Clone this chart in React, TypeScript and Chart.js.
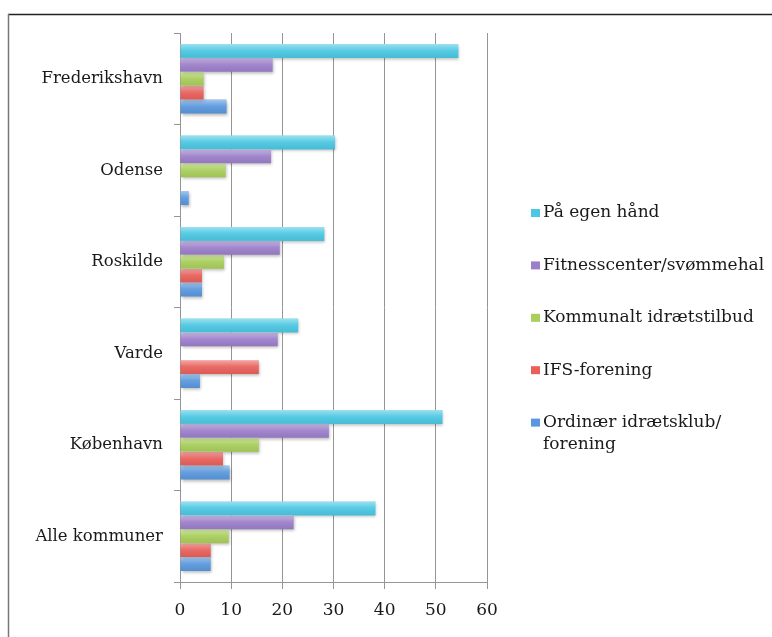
import React, { useEffect, useRef } from "react";
import { Chart, registerables } from "chart.js";
Chart.register(...registerables);

const categories = ["Frederikshavn", "Odense", "Roskilde", "Varde", "København", "Alle kommuner"];
const seriesLegendLines = [
  ["På egen hånd"],
  ["Fitnesscenter/svømmehal"],
  ["Kommunalt idrætstilbud"],
  ["IFS-forening"],
  ["Ordinær idrætsklub/", "forening"],
];
const paaEgenHaand = [54.4, 30.3, 28.2, 23.1, 51.3, 38.2];
const fitnesscenter = [18.1, 17.8, 19.5, 19.1, 29.1, 22.2];
const kommunalt = [4.6, 8.9, 8.6, 0, 15.4, 9.5];
const ifsForening = [4.6, 0, 4.3, 15.4, 8.4, 6.0];
const ordinaer = [9.1, 1.7, 4.3, 3.9, 9.7, 6.0];
const xMin = 0;
const xMax = 60;
const xStep = 10;
const seriesColors = ["#4cc8e3", "#9c7fcb", "#a9cf5c", "#e9605b", "#5a98de"];

const FONT = "'DejaVu Serif', serif";

const framePlugin = {
  id: "frame",
  beforeDraw(chart: any) {
    const ctx = chart.ctx;
    ctx.save();
    ctx.fillStyle = "#ffffff";
    ctx.fillRect(0, 0, chart.width, chart.height);
    ctx.strokeStyle = "#222222";
    ctx.lineWidth = 1.5;
    ctx.beginPath();
    ctx.moveTo(8, 14.5);
    ctx.lineTo(chart.width, 14.5);
    ctx.stroke();
    ctx.strokeStyle = "#777777";
    ctx.lineWidth = 1.5;
    ctx.beginPath();
    ctx.moveTo(8.5, 14);
    ctx.lineTo(8.5, chart.height);
    ctx.stroke();
    ctx.restore();
  },
};

const barStylePlugin = {
  id: "barStyle",
  beforeDatasetsDraw(chart: any) {
    const ctx = chart.ctx;
    ctx.save();
    ctx.shadowColor = "rgba(0,0,0,0.28)";
    ctx.shadowBlur = 3;
    ctx.shadowOffsetX = 1;
    ctx.shadowOffsetY = 2;
  },
  afterDatasetsDraw(chart: any) {
    const ctx = chart.ctx;
    ctx.restore();
    ctx.save();
    chart.data.datasets.forEach((_ds: any, di: number) => {
      const meta = chart.getDatasetMeta(di);
      meta.data.forEach((bar: any) => {
        const p = bar.getProps(["x", "y", "base", "height"], true);
        const left = Math.min(p.x, p.base);
        const w = Math.abs(p.x - p.base);
        if (w < 0.5) return;
        const top = p.y - p.height / 2;
        const g = ctx.createLinearGradient(0, top, 0, top + p.height);
        g.addColorStop(0, "rgba(255,255,255,0.45)");
        g.addColorStop(0.45, "rgba(255,255,255,0.08)");
        g.addColorStop(1, "rgba(0,0,0,0.06)");
        ctx.fillStyle = g;
        ctx.fillRect(left, top, w, p.height);
      });
    });
    ctx.restore();
  },
};

const legendPlugin = {
  id: "customLegend",
  afterDraw(chart: any) {
    const ctx = chart.ctx;
    ctx.save();
    ctx.font = `17px ${FONT}`;
    ctx.textBaseline = "middle";
    ctx.textAlign = "left";
    chart.data.datasets.forEach((ds: any, i: number) => {
      const cy = 213 + i * 52.4;
      ctx.fillStyle = ds.backgroundColor;
      ctx.fillRect(531, cy - 4, 9, 8);
      ctx.fillStyle = "#1a1a1a";
      const lines = seriesLegendLines[i];
      lines.forEach((line: string, li: number) => {
        ctx.fillText(line, 543, cy + li * 22);
      });
    });
    ctx.restore();
  },
};

export default function App() {
  const ref = useRef<HTMLCanvasElement | null>(null);
  useEffect(() => {
    if (!ref.current) return;
    const values = [paaEgenHaand, fitnesscenter, kommunalt, ifsForening, ordinaer];
    const chart = new Chart(ref.current, {
      type: "bar",
      data: {
        labels: categories,
        datasets: values.map((v, i) => ({
          label: seriesLegendLines[i].join(" "),
          data: v,
          backgroundColor: seriesColors[i],
          borderWidth: 0,
          categoryPercentage: 0.76,
          barPercentage: 1,
        })),
      },
      options: {
        indexAxis: "y",
        responsive: false,
        animation: false,
        layout: { padding: { left: 0, top: 33, right: 285, bottom: 0 } },
        plugins: { legend: { display: false }, tooltip: { enabled: false } },
        scales: {
          x: {
            min: xMin,
            max: xMax,
            ticks: { stepSize: xStep, color: "#1a1a1a", font: { family: FONT, size: 17 }, padding: 11 },
            grid: { color: "#959595", lineWidth: 1, tickLength: 7, drawTicks: true },
            border: { color: "#959595", width: 1 },
            afterFit: (s: any) => { s.height = 55; },
          },
          y: {
            ticks: { color: "#1a1a1a", font: { family: FONT, size: 16.5 }, padding: 11 },
            grid: { drawOnChartArea: false, color: "#959595", tickLength: 6, offset: true },
            border: { color: "#959595", width: 1 },
            afterFit: (s: any) => { s.width = 180; },
          },
        },
      },
      plugins: [framePlugin, barStylePlugin, legendPlugin],
    } as any);
    return () => chart.destroy();
  }, []);
  return (
    <canvas
      ref={ref}
      width={772}
      height={637}
      style={{ position: "fixed", left: 0, top: 0, width: 772, height: 637, display: "block" }}
    />
  );
}
